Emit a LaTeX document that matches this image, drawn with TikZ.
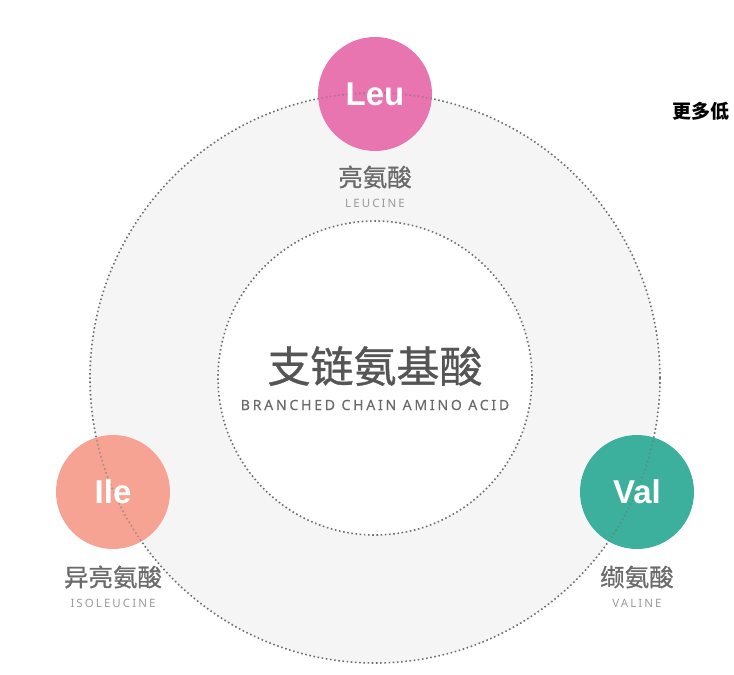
\documentclass[tikz,border=0pt]{standalone}
\usepackage{fontspec}
\setmainfont{Noto Sans CJK SC}
\newfontfamily\cjk{Noto Sans CJK SC}
\newfontfamily\cjkm[FakeBold=0.8]{Noto Sans CJK SC}
\newfontfamily\latsp[LetterSpace=18]{Noto Sans}
\newfontfamily\latspb[LetterSpace=20,FakeBold=0.3]{Noto Sans}
\newfontfamily\abbr{Liberation Sans}
\definecolor{ringfill}{HTML}{F5F5F5}
\definecolor{dotcol}{HTML}{707070}
\definecolor{leucol}{HTML}{E874B0}
\definecolor{ilecol}{HTML}{F6A394}
\definecolor{valcol}{HTML}{3DB09D}
\definecolor{cnlab}{HTML}{6A6A6A}
\definecolor{enlab}{HTML}{9A9A9A}
\definecolor{title}{HTML}{555555}
\tikzset{
  dotline/.style={draw=dotcol, line width=1.6pt, dash pattern=on 1.6pt off 2.6pt},
  acid/.style={circle, minimum size=114pt, inner sep=0pt, text=white, font=\abbr\bfseries\fontsize{33}{33}\selectfont},
  cnlabel/.style={text=cnlab, font=\cjkm\fontsize{24.5}{24.5}\selectfont, inner sep=0pt},
  enlabel/.style={text=enlab, font=\latsp\fontsize{11.5}{11.5}\selectfont, inner sep=0pt},
}
\begin{document}
\begin{tikzpicture}[x=1pt,y=-1pt]
\useasboundingbox (0,0) rectangle (734,675);
\clip (0,0) rectangle (734,675);
\coordinate (c) at (375,378);
% rings
\fill[ringfill] (c) circle (285);
\fill[white] (c) circle (157);
\draw[dotline] (c) circle (285);
\draw[dotline] (c) circle (157);
% acid circles
\node[acid, fill=leucol] (leu) at (375,94) {};
\node[acid, fill=ilecol] (ile) at (113,492) {};
\node[acid, fill=valcol] (val) at (637,492) {};
% dotted ring visible through circles
\begin{scope}
\clip (375,94) circle (57) (113,492) circle (57) (637,492) circle (57);
\draw[dotline, draw opacity=0.5] (c) circle (285);
\end{scope}
\node[acid, fill=none] at (leu) {Leu};
\node[acid, fill=none] at (ile) {Ile};
\node[acid, fill=none] at (val) {Val};
% labels
\node[cnlabel] (leucn) at (375,177) {亮氨酸};
\node[enlabel] (leuen) at (375,203) {LEUCINE};
\node[cnlabel] (ilecn) at (113,577) {异亮氨酸};
\node[enlabel] (ileen) at (113,603) {ISOLEUCINE};
\node[cnlabel] (valcn) at (637,577) {缬氨酸};
\node[enlabel] (valen) at (637,603) {VALINE};
% centre
\node[text=title, font=\cjkm\fontsize{43}{43}\selectfont, inner sep=0pt] (bcaa) at (375,366) {支链氨基酸};
\node[text=cnlab, font=\latspb\fontsize{14}{14}\selectfont, inner sep=0pt] (bcaaen) at (375,405) {BRANCHED CHAIN AMINO ACID};
% watermark text
\node[anchor=west, inner sep=0pt, text=black, font=\cjk\bfseries\fontsize{19}{19}\selectfont] (more) at (672,111) {更多低};
\end{tikzpicture}
\end{document}
